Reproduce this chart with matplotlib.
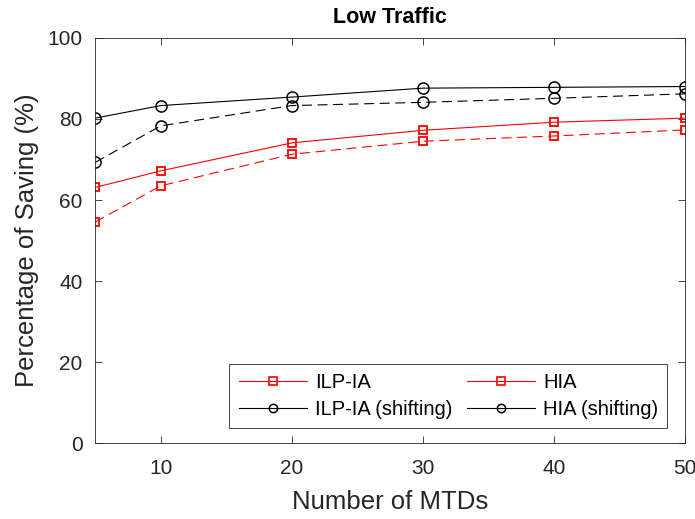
import matplotlib
matplotlib.use("Agg")
import matplotlib.pyplot as plt
from matplotlib.lines import Line2D

plt.rcParams['font.family'] = ['Liberation Sans', 'DejaVu Sans']

mtds = [5, 10, 20, 30, 40, 50]
ilp_ia = [63.1, 67.2, 74.1, 77.2, 79.2, 80.2]
hia = [54.6, 63.5, 71.3, 74.5, 75.8, 77.3]
ilp_ia_shift = [80.2, 83.3, 85.4, 87.6, 87.8, 88.0]
hia_shift = [69.3, 78.3, 83.3, 84.1, 85.1, 86.2]

gray = '#262626'

fig = plt.figure(figsize=(6.95, 5.19), dpi=100)
ax = fig.add_axes([0.137, 0.146, 0.849, 0.781])

dash = (0, (9, 5))
ax.plot(mtds, ilp_ia, color='red', lw=0.8, marker='s', ms=5.5, mfc='none', mew=1.3)
ax.plot(mtds, hia, color='red', lw=0.8, ls=dash, marker='s', ms=5.5, mfc='none', mew=1.3)
ax.plot(mtds, ilp_ia_shift, color='black', lw=0.8, marker='o', ms=8, mfc='none', mew=1.1)
ax.plot(mtds, hia_shift, color='black', lw=0.8, ls=dash, marker='o', ms=8, mfc='none', mew=1.1)

ax.set_xlim(5, 50)
ax.set_ylim(0, 100)
ax.set_xticks([10, 20, 30, 40, 50])
ax.set_yticks([0, 20, 40, 60, 80, 100])
ax.tick_params(direction='in', length=5, width=0.6, colors=gray, labelsize=15, top=True, right=True, pad=9)
ax.tick_params(axis='x', pad=11)
for s in ax.spines.values():
    s.set_color(gray)
    s.set_linewidth(0.6)

ax.set_xlabel('Number of MTDs', fontsize=18.5, color=gray, labelpad=9)
ax.set_ylabel('Percentage of Saving (%)', fontsize=18.5, color=gray, labelpad=6)
ax.set_title('Low Traffic', fontsize=15.5, fontweight='bold', pad=11)

# legend rows: ILP-IA / HIA, then the shifting pair (matplotlib fills columns first)
red_h = dict(color='red', lw=0.8, marker='s', ms=6, mfc='none', mew=1.2)
blk_h = dict(color='black', lw=0.8, marker='o', ms=6, mfc='none', mew=1.1)
handles = [Line2D([], [], **red_h), Line2D([], [], **blk_h),
           Line2D([], [], **red_h), Line2D([], [], **blk_h)]
labels = ['ILP-IA', 'ILP-IA (shifting)', 'HIA', 'HIA (shifting)']
leg = ax.legend(handles, labels, loc='upper right', bbox_to_anchor=(0.9695, 0.195),
                borderaxespad=0, ncol=2, fontsize=14.5,
                fancybox=False, framealpha=1, edgecolor=gray,
                handlelength=3.4, columnspacing=0.7, handletextpad=0.4,
                borderpad=0.45, labelspacing=0.4)
leg.get_frame().set_linewidth(0.6)

fig.savefig('out.png', dpi=100)
